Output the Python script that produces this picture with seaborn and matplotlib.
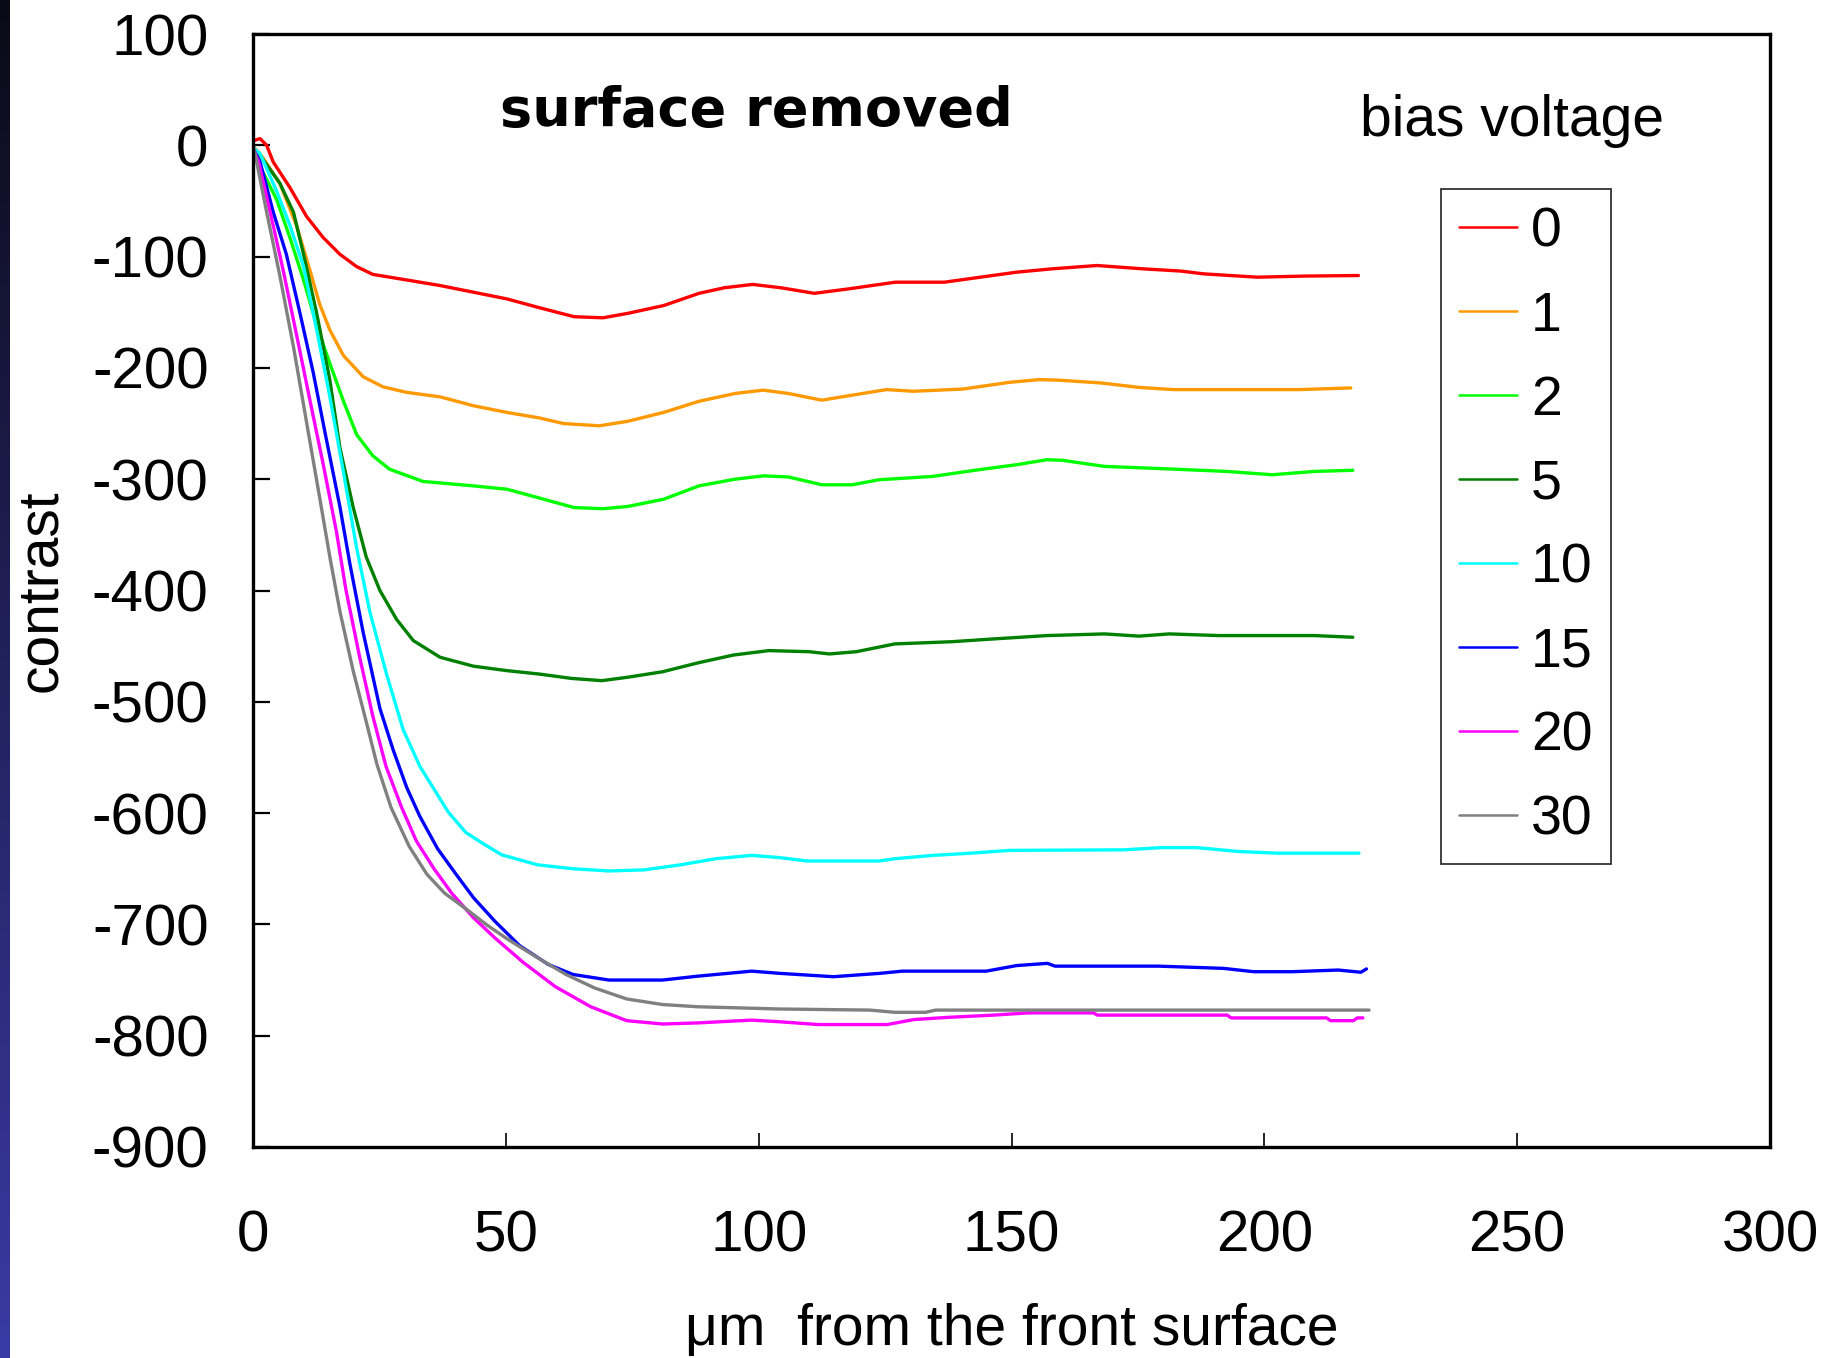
import numpy as np
import pandas as pd
import matplotlib
matplotlib.use("Agg")
import matplotlib.pyplot as plt
import seaborn as sns

# ---------------- data ----------------
bias_labels = ["0", "1", "2", "5", "10", "15", "20", "30"]
colors = ["#FF0000", "#FF9900", "#00FF00", "#008000",
          "#00FFFF", "#0000FF", "#FF00FF", "#808080"]

x_b0 = [0, 1.4, 2.7, 4, 7.3, 10.6, 13.9, 17.2, 20.5, 23.7, 30.4, 37, 43.6, 50.2, 56.7, 63.5, 69.2, 74.1, 81.2,
        88.2, 93.2, 98.8, 104.4, 111, 117.8, 127, 136.7, 151, 158, 166.9, 176, 183.5, 188, 198.6, 208, 218.6]
y_b0 = [4, 6, 0, -15, -38, -64, -83, -98, -109, -116, -121, -126, -132, -138, -146, -154, -155, -151, -144,
        -133, -128, -125, -128, -133, -129, -123, -123, -114, -111, -108, -111, -113, -115.5, -118.5, -117.5, -117]

x_b1 = [0, 1.4, 5.3, 8.6, 11.3, 13.2, 15.2, 17.9, 21.8, 25.7, 30.4, 37, 43.6, 50.2, 56.7, 61.4, 68.5, 74.1,
        81.2, 88.2, 95.3, 100.9, 105.9, 112.5, 117.8, 125.3, 130.6, 140.4, 149.5, 155.5, 159.3, 167.6, 175.2,
        182, 206.9, 217.1]
y_b1 = [-1, -7.5, -34, -72, -113, -143, -166, -189, -208, -217, -222, -226, -234, -240, -245, -250, -252, -248,
        -240, -230, -223, -220, -223, -229, -225, -219.5, -221, -219, -213, -210.5, -211, -213.5, -217.5,
        -219.5, -219.5, -218]

x_b2 = [0, 1.4, 4.7, 7.3, 10, 12.6, 15.2, 17.9, 20.5, 23.7, 27, 33.6, 43.6, 50.2, 56.7, 63.5, 69.2, 74.1,
        81.2, 88.2, 95.3, 101, 105.9, 112.5, 118.5, 123.8, 134.4, 143.5, 151, 157, 160, 168.4, 179.7, 192.5,
        201.6, 209.9, 217.5]
y_b2 = [-3, -19, -49, -83, -121, -162, -196, -230, -260, -279, -291, -302, -306, -309, -317, -325.5,
        -326.5, -324.5, -318, -306, -300, -297, -298, -305, -305, -300.5, -297.5, -291.5, -287, -282.5, -283,
        -288.5, -290.5, -293, -296, -293, -292]

x_b5 = [0, 2, 5.3, 8, 10, 12.6, 15.2, 17.2, 19.8, 22.4, 25.1, 28.4, 31.7, 37, 43.6, 50.2, 56.5, 63, 69, 74, 81,
        88, 95, 102, 110, 114, 119.3, 126.9, 138.2, 146.5, 157, 168.4, 175.2, 181.2, 191, 209.9, 217.5]
y_b5 = [-2, -13, -34, -60, -98, -151, -211, -272, -325, -370, -400, -426, -445, -460, -468, -472, -475,
        -479, -481, -478, -473, -465, -458, -454, -455, -457, -455, -448, -446, -443.5, -440.5, -439, -441,
        -439, -440.5, -440.5, -442]

x_b10 = [0, 1.4, 4.7, 7.3, 10, 12.6, 15.2, 17.9, 20.5, 23.1, 26.4, 29.7, 33, 35.6, 38.6, 42.1, 45.7, 49.2,
         56.3, 63.3, 70.4, 77.4, 84.5, 91.5, 98.6, 104.2, 109.5, 123.9, 126.9, 134.4, 142, 149.6, 172.2,
         179.8, 186.6, 194.9, 202.5, 218.7]
y_b10 = [-2, -7.5, -41.5, -72, -109, -166, -226, -294, -362, -419, -475, -525, -558, -577, -599, -617.5,
         -628, -637.5, -646.5, -650, -652, -651, -646.5, -641, -638, -640, -643, -643, -641, -638, -636,
         -633.5, -633, -631, -631, -634.5, -636, -636]

x_b15 = [0, 1.4, 4, 6.6, 9.3, 11.9, 14.5, 17.2, 19.2, 21.8, 25.1, 27.7, 30.4, 33, 36.5, 40, 43.6,
         47.8, 52.7, 58.4, 63.3, 70.4, 81, 88, 98.6, 104.2, 114.8, 123.9, 128.4, 145, 151, 157.1, 158.6, 179,
         191.9, 197.9, 205.5, 214.6, 219.1, 220.2]
y_b15 = [-3, -15, -60, -98, -151, -204, -264, -325, -377, -438, -506, -543, -577, -603, -632,
         -654, -676, -697, -719, -736, -745, -750, -750, -746.5, -742, -744, -747, -744, -742, -742, -737,
         -735, -737.5, -737.5, -739.5, -742.5, -742.5, -741, -743, -740]

x_b20 = [0, 1.1, 3.4, 6, 8.6, 11.3, 13.9, 16.5, 18.4, 21.1, 23.7, 26.3, 29.4, 32.3, 35.8,
         39.3, 43.6, 47.8, 53.4, 59.8, 66.8, 73.9, 81, 88, 98.6, 104.2, 111.8, 125.4, 130.7, 137.5, 146.5,
         153.3, 166.2, 167, 192.7, 193.4, 212.3, 213.1, 217.6, 218.4, 219.5]
y_b20 = [-3, -15, -60, -113, -170, -230, -287, -347, -400, -460, -513, -558, -595, -625,
         -650, -672, -694, -712, -734, -756, -774, -786.5, -789.5, -788.5, -786, -787.5, -790, -790, -785.5,
         -783.5, -781.5, -779.5, -779.5, -781.5, -781.5, -784, -784, -786.5, -786.5, -784, -784]

x_b30 = [0, 0.4, 2.7, 5.3, 8, 10.6, 13.2, 15.2, 17.2, 19.8, 22.4, 24.5, 27.3, 30.9, 34.4, 37.9, 42.1,
         46.4, 50.6, 56.3, 61.9, 67.5, 73.9, 81, 88, 104, 122, 127, 133, 135, 220.7]
y_b30 = [-3, -7.5, -60, -117, -181, -249, -317, -370, -419, -472, -518, -556, -595, -630, -655,
         -672, -686, -701, -714, -730, -745, -757, -767, -772, -774, -776, -777, -779, -779, -777, -777]

series_x = [x_b0, x_b1, x_b2, x_b5, x_b10, x_b15, x_b20, x_b30]
series_y = [y_b0, y_b1, y_b2, y_b5, y_b10, y_b15, y_b20, y_b30]

x_ticks = [0, 50, 100, 150, 200, 250, 300]
y_ticks = [-900, -800, -700, -600, -500, -400, -300, -200, -100, 0, 100]

title_text = "surface removed"
legend_title = "bias voltage"
x_label = "\u03bcm  from the front surface"
y_label = "contrast"

# ---------------- build long table ----------------
frames = []
for lab, xs, ys in zip(bias_labels, series_x, series_y):
    frames.append(pd.DataFrame({"x": xs, "y": ys, "bias": lab}))
df = pd.concat(frames, ignore_index=True)

# ---------------- style ----------------
sns.set_style("white")
plt.rcParams["font.family"] = ["Liberation Sans", "DejaVu Sans"]
plt.rcParams["text.color"] = "black"
plt.rcParams["axes.labelcolor"] = "black"
plt.rcParams["xtick.color"] = "black"
plt.rcParams["ytick.color"] = "black"

W, H = 1824, 1358
fig = plt.figure(figsize=(W / 100, H / 100), dpi=100)
fig.patch.set_facecolor("white")

L, R, T, B = 253, 1770, 34, 1147
ax = fig.add_axes([L / W, 1 - B / H, (R - L) / W, (B - T) / H])

sns.lineplot(data=df, x="x", y="y", hue="bias", hue_order=bias_labels,
             palette=colors, estimator=None, sort=False, linewidth=2.4,
             legend=False, ax=ax)

ax.set_xlim(0, 300)
ax.set_ylim(-900, 100)
ax.set_xticks(x_ticks)
ax.set_yticks(y_ticks)
ax.set_xticklabels([str(v) for v in x_ticks])
ax.set_yticklabels([str(v) for v in y_ticks])

for sp in ax.spines.values():
    sp.set_visible(True)
    sp.set_color("black")
    sp.set_linewidth(2.4)

ax.tick_params(axis="y", which="major", direction="in", length=12, width=1.6,
               labelsize=42, pad=32, left=True, right=False, colors="black")
ax.tick_params(axis="x", which="major", direction="in", length=10, width=1.2,
               labelsize=42, pad=45, bottom=True, top=False, colors="black")

ax.set_xlabel(x_label, fontsize=41, color="black")
ax.xaxis.set_label_coords(0.5, -0.14)
ax.xaxis.label.set_va("top")
ax.set_ylabel(y_label, fontsize=41, color="black")
ax.yaxis.set_label_coords(-0.122, 0.5)

ax.text(0.3316, 0.9304, title_text, transform=ax.transAxes, ha="center", va="center",
        fontsize=39, fontweight="bold", family=["DejaVu Sans"], color="black")
ax.text(0.830, 0.9084, legend_title, transform=ax.transAxes, ha="center", va="baseline",
        fontsize=41, color="black")

handles = ax.get_lines()[:len(bias_labels)]
leg = ax.legend(handles, bias_labels, loc="upper left",
                bbox_to_anchor=((1441 - L) / (R - L), (B - 189) / (B - T)),
                borderaxespad=0, fontsize=40, frameon=True, fancybox=False,
                handlelength=1.05, handletextpad=0.25, labelspacing=0.575,
                borderpad=0.32)
leg.get_frame().set_edgecolor("black")
leg.get_frame().set_linewidth(1.3)
for t in leg.get_texts():
    t.set_color("black")
for ln in leg.get_lines():
    ln.set_linewidth(1.8)

# dark gradient strip on the left edge
sax = fig.add_axes([0, 0, 10 / W, 1])
grad = np.linspace(0, 1, 256).reshape(-1, 1)
top_c = np.array([10, 10, 22]) / 255
bot_c = np.array([58, 58, 165]) / 255
img = top_c[None, None, :] * (1 - grad[:, :, None]) + bot_c[None, None, :] * grad[:, :, None]
sax.imshow(img, aspect="auto", extent=[0, 1, 0, 1])
sax.set_axis_off()

fig.savefig("out.png", dpi=100, facecolor="white")
